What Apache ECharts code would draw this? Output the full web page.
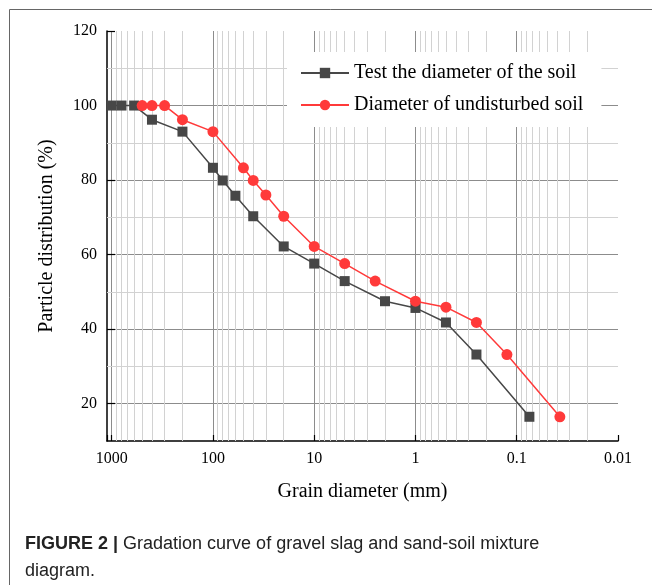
<!DOCTYPE html>
<html><head><meta charset="utf-8">
<script src="https://cdn.jsdelivr.net/npm/echarts@6/dist/echarts.min.js"></script>
<style>html,body{margin:0;padding:0;background:#fff;} #c{width:652px;height:585px;}</style>
</head><body><div id="c"></div>
<script>
// ---- data ----
const testDiameters = [1000, 800, 600, 400, 200, 100, 80, 60, 40, 20, 10, 5, 2, 1, 0.5, 0.25, 0.075];
const testPassing = [100, 100, 100, 96.2, 93.0, 83.3, 79.9, 75.8, 70.3, 62.2, 57.6, 52.9, 47.5, 45.7, 41.8, 33.2, 16.5];
const undisturbedDiameters = [500, 400, 300, 200, 100, 50, 40, 30, 20, 10, 5, 2.5, 1, 0.5, 0.25, 0.125, 0.0375];
const undisturbedPassing = [100, 100, 100, 96.2, 93.0, 83.3, 79.9, 76.0, 70.3, 62.2, 57.6, 52.9, 47.5, 45.9, 41.8, 33.2, 16.5];
const seriesNames = ['Test the diameter of the soil', 'Diameter of undisturbed soil'];
const xTickValues = [1000, 100, 10, 1, 0.1, 0.01];
const xTickLabels = ['1000', '100', '10', '1', '0.1', '0.01'];
const yTickValues = [20, 40, 60, 80, 100, 120];
const yMinorGrid = [30, 50, 70, 90, 110];
const minorMultipliers = [2, 3, 4, 5, 6, 7, 8, 9];
const decades = [0.01, 0.1, 1, 10, 100];
const captionBold = 'FIGURE 2 |';
const captionLine1 = ' Gradation curve of gravel slag and sand-soil mixture';
const captionLine2 = 'diagram.';

const serif = '"Liberation Serif", "Times New Roman", serif';
const sans = '"Liberation Sans", Arial, sans-serif';

const xMinorGrid = [];
decades.forEach(d => minorMultipliers.forEach(m => xMinorGrid.push(+(d * m).toPrecision(6))));

function pairs(xs, ys) { return xs.map((x, i) => [x, ys[i]]); }

const chart = echarts.init(document.getElementById('c'), null, { renderer: 'canvas' });
chart.setOption({
  animation: false,
  backgroundColor: '#fff',
  grid: { left: 107, right: 34, top: 31, bottom: 144, containLabel: false },
  legend: {
    data: seriesNames,
    orient: 'vertical',
    left: 287, top: 52,
    itemWidth: 48, itemHeight: 13, itemGap: 12,
    padding: [11, 18, 12, 13],
    backgroundColor: '#fff',
    textStyle: { fontFamily: serif, fontSize: 20, color: '#000' }
  },
  xAxis: {
    type: 'log', logBase: 10, inverse: true,
    min: 0.01, max: 1112,
    name: 'Grain diameter (mm)', nameLocation: 'middle', nameGap: 41,
    nameTextStyle: { fontFamily: serif, fontSize: 20, color: '#000' },
    axisLine: { onZero: false, lineStyle: { color: '#000', width: 1.5 } },
    axisTick: { inside: true, length: 6, lineStyle: { color: '#000', width: 1.2 } },
    axisLabel: {
      fontFamily: serif, fontSize: 16, color: '#000', margin: 10,
      formatter: function (v) {
        for (let i = 0; i < xTickValues.length; i++) {
          if (Math.abs(Math.log10(v) - Math.log10(xTickValues[i])) < 1e-6) return xTickLabels[i];
        }
        return '';
      }
    },
    splitLine: { show: true, showMinLine: false, showMaxLine: false, lineStyle: { color: '#8c8c8c', width: 1 } }
  },
  yAxis: {
    type: 'value', min: 10, max: 120, interval: 10,
    name: 'Particle distribution (%)', nameLocation: 'middle', nameGap: 50,
    nameTextStyle: { fontFamily: serif, fontSize: 20, color: '#000' },
    axisLine: { show: true, lineStyle: { color: '#000', width: 1.5 } },
    axisTick: { show: true, inside: true, length: 8, customValues: yTickValues, lineStyle: { color: '#000', width: 1.2 } },
    axisLabel: { fontFamily: serif, fontSize: 16, color: '#000', margin: 10, customValues: yTickValues },
    splitLine: { show: true, showMaxLine: false, lineStyle: { color: '#8c8c8c', width: 1 } }
  },
  series: [
    {
      name: 'minor-grid', type: 'line', data: [], z: 1, silent: true,
      markLine: {
        silent: true, z: 1, symbol: ['none', 'none'], animation: false,
        label: { show: false },
        lineStyle: { color: '#d2d2d2', width: 1, type: 'solid' },
        emphasis: { disabled: true },
        data: xMinorGrid.map(v => ({ xAxis: v })).concat(yMinorGrid.map(v => ({ yAxis: v })))
      }
    },
    {
      name: seriesNames[0], type: 'line', z: 3,
      data: pairs(testDiameters, testPassing),
      symbol: 'rect', symbolSize: 10,
      itemStyle: { color: '#474747' },
      lineStyle: { color: '#474747', width: 1.5 }
    },
    {
      name: seriesNames[1], type: 'line', z: 3,
      data: pairs(undisturbedDiameters, undisturbedPassing),
      symbol: 'circle', symbolSize: 11,
      itemStyle: { color: '#ff3a3a' },
      lineStyle: { color: '#ff3a3a', width: 1.5 }
    }
  ],
  graphic: [
    { type: 'line', shape: { x1: 9.5, y1: 9.5, x2: 652, y2: 9.5 }, style: { stroke: '#666', lineWidth: 1 }, silent: true },
    { type: 'line', shape: { x1: 9.5, y1: 9.5, x2: 9.5, y2: 585 }, style: { stroke: '#666', lineWidth: 1 }, silent: true },
    {
      type: 'text', left: 25, top: 531, silent: true,
      style: {
        text: '{b|' + captionBold + '}' + captionLine1 + '\n' + captionLine2,
        font: '18px ' + sans, fill: '#222', lineHeight: 27,
        rich: { b: { fontWeight: 'bold', fontFamily: sans, fontSize: 18, fill: '#222' } }
      }
    }
  ]
});
</script></body></html>
